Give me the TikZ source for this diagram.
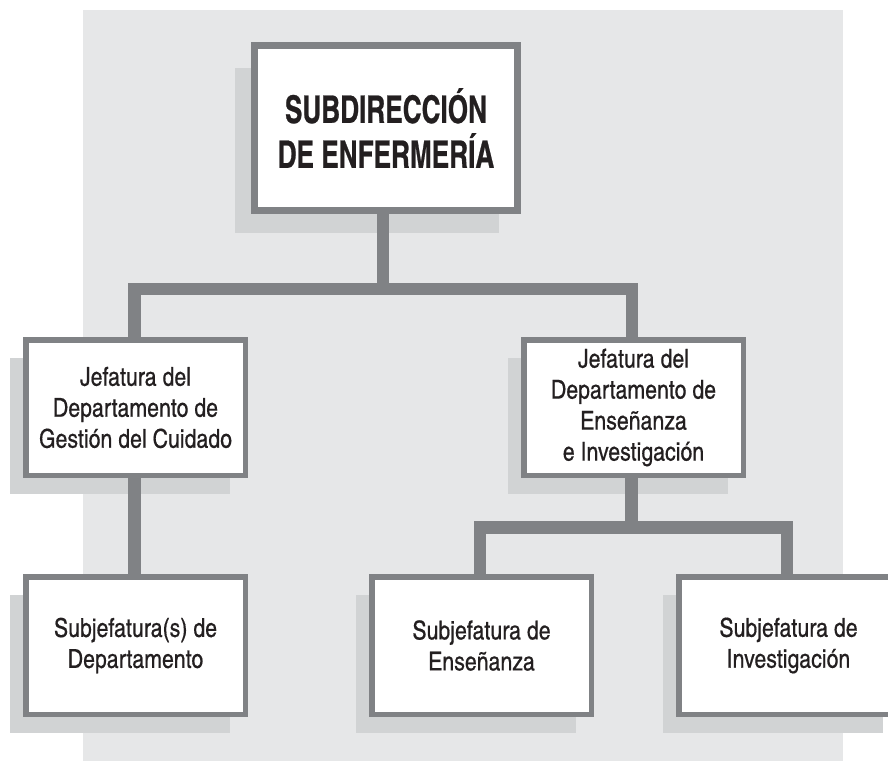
\documentclass[tikz,border=0pt]{standalone}
\usepackage{fontspec}
\setmainfont{texgyreheroscn}[Extension=.otf,UprightFont=*-regular,BoldFont=*-bold]
\newfontfamily\boxfont{texgyreheroscn-regular}[Extension=.otf,FakeBold=0.5]
\newfontfamily\titlefont{texgyreheroscn-bold}[Extension=.otf,FakeStretch=0.84,FakeBold=0.6]
\definecolor{bgc}{HTML}{E6E7E8}
\definecolor{shadc}{HTML}{D1D3D4}
\definecolor{bordc}{HTML}{808285}
\definecolor{textc}{HTML}{231F20}
\pgfdeclarelayer{bglayer}
\pgfdeclarelayer{shadowlayer}
\pgfdeclarelayer{connlayer}
\pgfsetlayers{bglayer,shadowlayer,connlayer,main}
\begin{document}
\begin{tikzpicture}[x=1pt,y=-1pt,
  orgbox/.style={draw=bordc, fill=white, line width=5.5pt, minimum width=219.5pt,
    text=textc, align=center, inner sep=0pt, font=\boxfont\fontsize{26}{31}\selectfont},
  jbox/.style={orgbox, minimum height=135.5pt},
  sbox/.style={orgbox, minimum height=137.5pt},
  topbox/.style={draw=bordc, fill=white, line width=7pt, minimum width=263pt,
    minimum height=165pt, text=textc, align=center, inner sep=0pt,
    font=\titlefont\fontsize{38}{45}\selectfont},
  conn/.style={draw=bordc, line width=12.5pt, line join=miter},
  shad/.style={fill=shadc}]
\useasboundingbox (0,0) rectangle (888,761);
\begin{pgfonlayer}{bglayer}
  \fill[white] (0,0) rectangle (888,761);
  \fill[bgc] (83,10) rectangle (843,761);
\end{pgfonlayer}

\node[topbox] (T) at (386,128) {SUBDIRECCIÓN\\DE ENFERMERÍA};
\node[jbox] (J1) at (135.5,407.5) {Jefatura del\\Departamento de\\Gestión del Cuidado};
\node[jbox] (J2) at (633.5,407.5) {Jefatura del\\Departamento de\\Enseñanza\\e Investigación};
\node[sbox] (S1) at (135.5,645.5) {Subjefatura(s) de\\Departamento};
\node[sbox] (S2) at (481.5,645.5) {Subjefatura de\\Enseñanza};
\node[sbox] (S3) at (788.5,645.5) {Subjefatura de\\Investigación};

\begin{pgfonlayer}{shadowlayer}
  \fill[shad] ([xshift=-16pt,yshift=-26pt]T.north west) rectangle ([xshift=-22pt,yshift=-19pt]T.south east);
  \foreach \b in {J1,J2,S1,S2,S3}
    \fill[shad] ([xshift=-13pt,yshift=-21pt]\b.north west) rectangle ([xshift=-18pt,yshift=-16pt]\b.south east);
\end{pgfonlayer}

\coordinate (b1) at (383,289);
\coordinate (b2) at (631.5,527.5);
\begin{pgfonlayer}{connlayer}
  \draw[conn] ([xshift=-3pt]T.south) -- (b1);
  \draw[conn] ([xshift=-1pt]J1.north) |- (b1) -| ([xshift=-1.5pt]J2.north);
  \draw[conn] ([xshift=-1pt]J1.south) -- ([xshift=-1pt]S1.north);
  \draw[conn] ([xshift=-2pt]J2.south) -- (b2);
  \draw[conn] ([xshift=-1.5pt]S2.north) |- (b2) -| ([xshift=-1.5pt]S3.north);
\end{pgfonlayer}
\end{tikzpicture}
\end{document}
